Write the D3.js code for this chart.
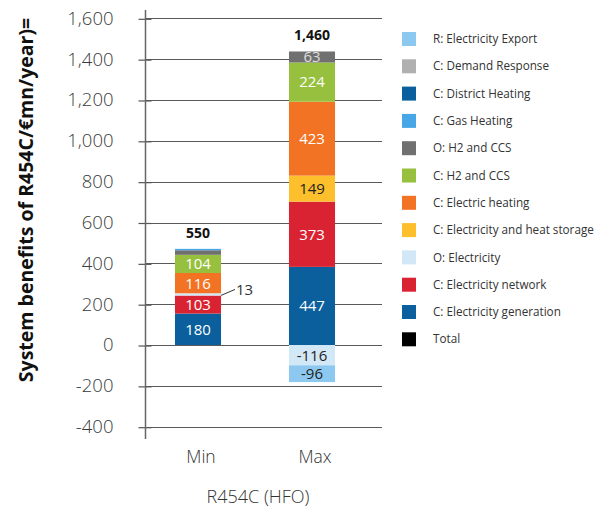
<!DOCTYPE html>
<html>
<head>
<meta charset="utf-8">
<script src="https://cdn.jsdelivr.net/npm/d3@7"></script>
<style>
  html, body { margin: 0; padding: 0; background: #fff; }
  svg { display: block; font-family: "Open Sans", "Noto Sans", sans-serif; }
</style>
</head>
<body>
<svg id="chart" width="611" height="509"></svg>
<script>
// ---------------- data ----------------
const categories = ["Min", "Max"];
const groupLabel = "R454C (HFO)";
const yTitle = "System benefits of R454C/\u20acmn/year)=";
const yTicks = [-400, -200, 0, 200, 400, 600, 800, 1000, 1200, 1400, 1600];

// stack order, bottom to top
const seriesNames = [
  "C: Electricity generation",
  "C: Electricity network",
  "O: Electricity",
  "C: Electricity and heat storage",
  "C: Electric heating",
  "C: H2 and CCS",
  "O: H2 and CCS",
  "C: Gas Heating",
  "C: District Heating",
  "C: Demand Response",
  "R: Electricity Export"
];
// values per category [Min, Max]
const elecGeneration   = [180, 447];
const elecNetwork      = [103, 373];
const oElectricity     = [13, -116];
const elecHeatStorage  = [0, 149];
const electricHeating  = [116, 423];
const h2Ccs            = [104, 224];
const oH2Ccs           = [26, 63];
const gasHeating       = [8, 0];
const districtHeating  = [0, 0];
const demandResponse   = [0, 0];
const elecExport       = [0, -96];
const totals           = [550, 1460];

// legend order (top to bottom)
const legendNames = [
  "R: Electricity Export", "C: Demand Response", "C: District Heating", "C: Gas Heating",
  "O: H2 and CCS", "C: H2 and CCS", "C: Electric heating", "C: Electricity and heat storage",
  "O: Electricity", "C: Electricity network", "C: Electricity generation", "Total"
];

// ---------------- styles ----------------
const colors = {
  "C: Electricity generation": "#0b5f9c",
  "C: Electricity network": "#da2332",
  "O: Electricity": "#d3e8f6",
  "C: Electricity and heat storage": "#fdc02c",
  "C: Electric heating": "#f37324",
  "C: H2 and CCS": "#96c03d",
  "O: H2 and CCS": "#707070",
  "C: Gas Heating": "#47a7e6",
  "C: District Heating": "#0b5f9c",
  "C: Demand Response": "#b0b0b0",
  "R: Electricity Export": "#8dc8f0",
  "Total": "#000000"
};
const labelColors = {
  "C: Electricity and heat storage": "#222",
  "O: Electricity": "#222",
  "R: Electricity Export": "#222",
  "O: H2 and CCS": "#dddddd"
};

const valuesByName = {
  "C: Electricity generation": elecGeneration,
  "C: Electricity network": elecNetwork,
  "O: Electricity": oElectricity,
  "C: Electricity and heat storage": elecHeatStorage,
  "C: Electric heating": electricHeating,
  "C: H2 and CCS": h2Ccs,
  "O: H2 and CCS": oH2Ccs,
  "C: Gas Heating": gasHeating,
  "C: District Heating": districtHeating,
  "C: Demand Response": demandResponse,
  "R: Electricity Export": elecExport
};

const rows = categories.map((c, i) => {
  const r = { category: c };
  seriesNames.forEach(n => r[n] = valuesByName[n][i]);
  return r;
});

const fmt = v => d3.format(",")(v).replace("\u2212", "-");

// ---------------- layout ----------------
const svg = d3.select("#chart");
const axisX = 145.5;
const gridRight = 382;
const plotTop = 18.3, plotBottom = 426.7;

const yAxisScale = d3.scaleLinear().domain([-400, 1600]).range([plotBottom, plotTop]);
// in the source the bars are drawn on a slightly different vertical scale than the printed axis
const barRatio = 1.168;
const y = d3.scaleLinear().domain([-400 * barRatio, 1600 * barRatio]).range([plotBottom, plotTop]);

const x = d3.scaleBand().domain(categories).range([141, 369]).paddingInner(0.596).paddingOuter(0.298);

// gridlines
svg.append("g").selectAll("line").data(yTicks).join("line")
  .attr("x1", axisX).attr("x2", gridRight)
  .attr("y1", d => Math.round(yAxisScale(d)) + 0.5)
  .attr("y2", d => Math.round(yAxisScale(d)) + 0.5)
  .attr("stroke", "#5a5a5a").attr("stroke-width", 1);

// y axis
const yAxis = d3.axisLeft(yAxisScale).tickValues(yTicks).tickSize(0).tickPadding(0)
  .tickFormat(fmt);
const gy = svg.append("g").attr("transform", `translate(${axisX},0)`).call(yAxis);
gy.select(".domain").remove();
gy.selectAll(".tick text")
  .attr("x", -32)
  .attr("font-size", 18.5)
  .attr("font-family", "'Open Sans', sans-serif")
  .attr("font-weight", 300)
  .attr("fill", "#3a3a3a");
gy.selectAll(".tick").append("line")
  .attr("x1", -7).attr("x2", 6).attr("y1", 0.5).attr("y2", 0.5)
  .attr("stroke", "#555").attr("stroke-width", 1.2);
svg.append("line")
  .attr("x1", axisX).attr("x2", axisX).attr("y1", 10).attr("y2", 439)
  .attr("stroke", "#666").attr("stroke-width", 1.5);

// y title
svg.append("text")
  .attr("transform", `translate(33,200) rotate(-90)`)
  .attr("text-anchor", "middle")
  .attr("font-size", 19.5)
  .attr("font-weight", 700)
  .attr("fill", "#111")
  .text(yTitle);

// stacked bars
const stack = d3.stack().keys(seriesNames).offset(d3.stackOffsetDiverging);
const stacked = stack(rows);

const gBars = svg.append("g");
stacked.forEach(s => {
  gBars.append("g").attr("fill", colors[s.key])
    .selectAll("rect").data(s.filter(d => d[1] !== d[0])).join("rect")
    .attr("x", d => x(d.data.category))
    .attr("width", x.bandwidth())
    .attr("y", d => y(Math.max(d[0], d[1])))
    .attr("height", d => Math.abs(y(d[0]) - y(d[1])));
});

// segment labels
const outsideLabels = [{ category: "Min", key: "O: Electricity" }];
stacked.forEach(s => {
  s.forEach(d => {
    const v = d.data[s.key];
    const cat = d.data.category;
    const cx = x(cat) + x.bandwidth() / 2;
    const cy = (y(d[0]) + y(d[1])) / 2;
    const isOutside = outsideLabels.some(o => o.category === cat && o.key === s.key);
    if (isOutside) {
      const x0 = x(cat) + x.bandwidth();
      svg.append("line")
        .attr("x1", x0).attr("y1", cy + 1)
        .attr("x2", x0 + 14).attr("y2", cy - 5)
        .attr("stroke", "#333").attr("stroke-width", 1);
      svg.append("text")
        .attr("x", x0 + 15).attr("y", cy - 5)
        .attr("dy", "0.35em")
        .attr("font-size", 15).attr("fill", "#333")
        .text(fmt(v));
    } else if (Math.abs(v) >= 40) {
      svg.append("text")
        .attr("x", cx).attr("y", cy)
        .attr("dy", "0.36em")
        .attr("text-anchor", "middle")
        .attr("font-size", 15)
        .attr("fill", labelColors[s.key] || "#ffffff")
        .text(fmt(v));
    }
  });
});

// totals, placed above the top of each positive stack
const stackTops = categories.map((c, i) => d3.max(stacked, s => s[i][1]));
svg.append("g").selectAll("text").data(categories).join("text")
  .attr("x", d => x(d) + x.bandwidth() / 2)
  .attr("y", (d, i) => y(stackTops[i]) - 11)
  .attr("text-anchor", "middle")
  .attr("font-size", 14)
  .attr("font-weight", 700)
  .attr("fill", "#111")
  .text((d, i) => fmt(totals[i]));

// category labels
svg.append("g").selectAll("text").data(categories).join("text")
  .attr("x", d => x(d) + x.bandwidth() / 2 + 3)
  .attr("y", 463)
  .attr("text-anchor", "middle")
  .attr("font-size", 17.5)
  .attr("font-weight", 300)
  .attr("fill", "#333")
  .text(d => d);

svg.append("text")
  .attr("x", 258).attr("y", 503)
  .attr("text-anchor", "middle")
  .attr("font-size", 18)
  .attr("font-weight", 300)
  .attr("fill", "#333")
  .text(groupLabel);

// legend
const leg = svg.append("g").selectAll("g").data(legendNames).join("g")
  .attr("transform", (d, i) => `translate(402,${39 + i * 27.3})`);
leg.append("rect").attr("x", 0).attr("y", -7).attr("width", 14).attr("height", 14)
  .attr("fill", d => colors[d]);
leg.append("text").attr("x", 31).attr("dy", "0.35em")
  .attr("font-size", 11.7).attr("fill", "#333")
  .text(d => d);
</script>
</body>
</html>
